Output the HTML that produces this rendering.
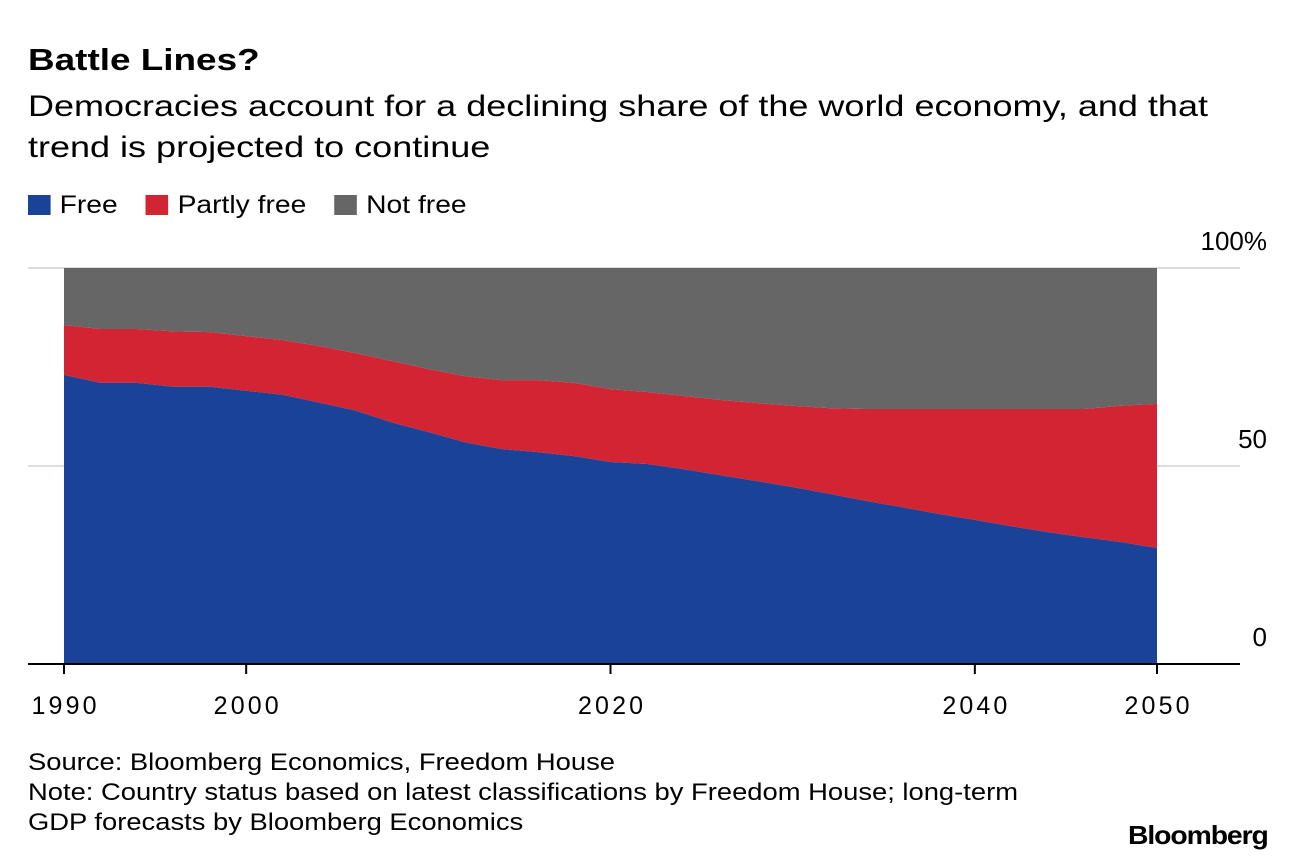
<!DOCTYPE html>
<html><head><meta charset="utf-8"><style>
body{margin:0;background:#fff;font-family:"Liberation Sans",Arial,sans-serif;color:#000}
.t{position:absolute;white-space:nowrap;transform-origin:0 0}
</style></head><body>
<div style="position:relative;width:1296px;height:862px;overflow:hidden">
<div class="t" style="left:28px;top:42px;font-size:31px;font-weight:bold;transform:scaleX(1.19)">Battle Lines?</div>
<div class="t" style="left:28px;top:86px;font-size:30px;line-height:41px;transform:scaleX(1.2)">Democracies account for a declining share of the world economy, and that<br>trend is projected to continue</div>
<div class="t" style="left:28px;top:191px;font-size:25px;transform:scaleX(1.13)">
<span><span style="display:inline-block;width:20px;height:20px;background:#1a4296;vertical-align:-2px;margin-right:8px"></span>Free</span>
<span style="margin-left:18px"><span style="display:inline-block;width:20px;height:20px;background:#d22432;vertical-align:-2px;margin-right:8px"></span>Partly free</span>
<span style="margin-left:18px"><span style="display:inline-block;width:20px;height:20px;background:#666;vertical-align:-2px;margin-right:8px"></span>Not free</span>
</div>
<svg id="chart" width="1296" height="862" style="position:absolute;left:0;top:0"></svg>
<div class="t" style="left:28px;top:748px;font-size:24px;line-height:30px;transform:scaleX(1.14)">Source: Bloomberg Economics, Freedom House<br>Note: Country status based on latest classifications by Freedom House; long-term<br>GDP forecasts by Bloomberg Economics</div>
<div class="t" style="left:1128px;top:820px;font-size:26px;font-weight:bold;letter-spacing:-1px;transform:scaleX(1.09)">Bloomberg</div>
</div>
<script>
const years=[1990,1992,1994,1996,1998,2000,2002,2004,2006,2008,2010,2012,2014,2016,2018,2020,2022,2024,2026,2028,2030,2032,2034,2036,2038,2040,2042,2044,2046,2048,2050];
const free=[73,71,71,70,70,69,68,66,64,61,58.6,56,54.3,53.5,52.5,51,50.5,49.2,47.7,46.2,44.7,43,41.2,39.6,37.9,36.4,34.8,33.3,32,30.8,29.3];
const partly=[12.6,13.6,13.6,14,13.8,13.8,13.8,14.3,14.5,15.5,15.9,16.7,17.4,18.2,18.5,18.4,18.2,18.5,19,19.7,20.5,21.6,23.2,24.8,26.5,28,29.6,31.1,32.4,34.4,36.4];
const yTicks=[0,50,100];
const yTickLabels=["0","50","100%"];
const xTicks=[1990,2000,2020,2040,2050];
const NS="http://www.w3.org/2000/svg";
const svg=document.getElementById('chart');
const X=y=>64+(y-1990)*(1157-64)/60;
const Y=v=>664-v*3.96;
function mk(tag,attrs){const e=document.createElementNS(NS,tag);for(const k in attrs)e.setAttribute(k,attrs[k]);svg.appendChild(e);return e;}
yTicks.forEach((t,i)=>{
  const g=mk('line',{x1:28,x2:1240,y1:Y(t),y2:Y(t),stroke:'#ddd','stroke-width':2});
  
  
});
const top2=free.map((f,i)=>f+partly[i]);
function area(upper,lower,color,name){
  let d='M'+X(years[0])+','+Y(upper[0]);
  years.forEach((y,i)=>d+='L'+X(y)+','+Y(upper[i]));
  for(let i=years.length-1;i>=0;i--)d+='L'+X(years[i])+','+Y(lower[i]);
  const p=mk('path',{d:d+'Z',fill:color});
  
  
}
area(years.map(()=>100),top2,'#666','area-not-free');
area(top2,free,'#d22432','area-partly-free');
area(free,years.map(()=>0),'#1a4296','area-free');
const ax=mk('line',{x1:28,x2:1240,y1:664,y2:664,stroke:'#000','stroke-width':2});


yTicks.forEach((t,i)=>{
  const tx=mk('text',{x:1267,y:Y(t)-18,'text-anchor':'end','font-size':26,'font-family':'Liberation Sans, sans-serif'});
  tx.textContent=yTickLabels[i];
  
  
});
xTicks.forEach(t=>{
  const l=mk('line',{x1:X(t),x2:X(t),y1:664,y2:674,stroke:'#000','stroke-width':2});
  
  
  const tx=mk('text',{x:X(t),y:714,'text-anchor':'middle','font-size':25,'font-family':'Liberation Sans, sans-serif',textLength:65});
  tx.textContent=t;
  
  
});
</script>
</body></html>
